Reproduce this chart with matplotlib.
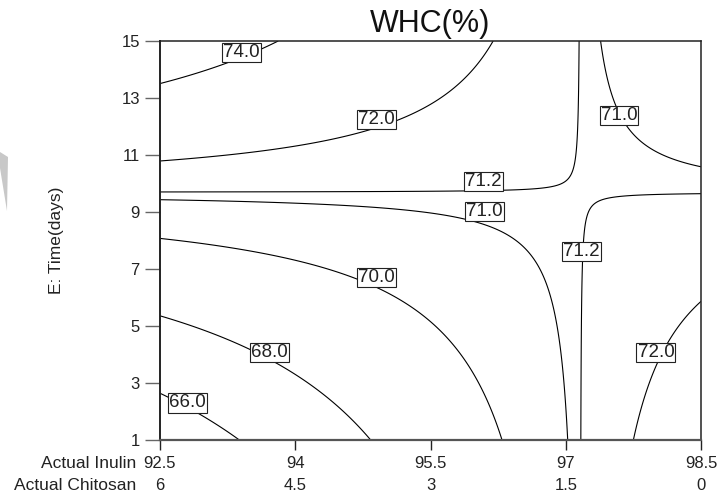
import numpy as np
import matplotlib
matplotlib.use("Agg")
import matplotlib.pyplot as plt
import matplotlib.transforms as mtransforms
from matplotlib.patches import Polygon

plt.rcParams['font.family'] = ['Liberation Sans', 'DejaVu Sans']

# ---- data (fitted response surface) ----
inulin_ticks = [92.5, 94, 95.5, 97, 98.5]
chitosan_ticks = ['6', '4.5', '3', '1.5', '0']
time_ticks = [1, 3, 5, 7, 9, 11, 13, 15]
levels = [66.0, 68.0, 70.0, 71.0, 71.2, 72.0, 74.0]

# model: WHC = z0 + k * (Inulin - x0) * (Time - t0)
saddle_inulin = 97.16
saddle_time = 9.69
saddle_value = 71.19
interaction = -0.158

# contour label positions (inulin, time) and their values
label_values = [74.0, 72.0, 71.0, 71.2, 71.0, 71.2, 70.0, 68.0, 66.0, 72.0]
label_inulin = [93.40, 94.90, 97.59, 96.09, 96.10, 97.17, 94.90, 93.71, 92.80, 98.00]
label_time = [14.59, 12.25, 12.38, 10.06, 9.01, 7.61, 6.70, 4.08, 2.30, 4.08]

W, H = 718, 493
fig = plt.figure(figsize=(W / 100, H / 100), dpi=100)
ax = fig.add_axes([160 / W, 53 / H, 541 / W, 399 / H])

x = np.linspace(92.5, 98.5, 500)
t = np.linspace(1, 15, 500)
X, T = np.meshgrid(x, t)
Z = saddle_value + interaction * (X - saddle_inulin) * (T - saddle_time)

ax.contour(X, T, Z, levels=levels, colors='black', linewidths=0.8)

for v, xi, ti in zip(label_values, label_inulin, label_time):
    ax.text(xi, ti, f"{v:.1f}", ha='center', va='center', fontsize=13.5,
            color='#222222', zorder=5,
            bbox=dict(boxstyle='square,pad=0.06', facecolor='white',
                      edgecolor='#222222', linewidth=0.8))

ax.set_xlim(92.5, 98.5)
ax.set_ylim(1, 15)
ax.set_xticks(inulin_ticks)
ax.set_xticklabels([f"{v:g}" for v in inulin_ticks], fontsize=12, color='#222222')
ax.set_yticks(time_ticks)
ax.set_yticklabels([str(v) for v in time_ticks], fontsize=12, color='#222222')
ax.tick_params(axis='x', length=7.5, width=1.0, color='#222222', pad=4)
ax.tick_params(axis='y', length=10.5, width=1.0, color='#666666', pad=4)
for s in ax.spines.values():
    s.set_linewidth(1.1)
    s.set_color('#222222')
ax.spines['bottom'].set_linewidth(1.6)
ax.spines['bottom'].set_color('#555555')
ax.spines['left'].set_linewidth(1.4)

# second row of x labels (chitosan)
blend = mtransforms.blended_transform_factory(ax.transData, fig.transFigure)
for xv, lab in zip(inulin_ticks, chitosan_ticks):
    fig.text(xv, 1 - 485 / H, lab, transform=blend, ha='center', va='center',
             fontsize=12, color='#222222')

fig.text(136 / W, 1 - 463 / H, 'Actual Inulin', ha='right', va='center',
         fontsize=12.5, color='#222222')
fig.text(136 / W, 1 - 485 / H, 'Actual Chitosan', ha='right', va='center',
         fontsize=12.5, color='#222222')

fig.text(56 / W, 1 - 240 / H, 'E: Time(days)', rotation=90, ha='center',
         va='center', fontsize=12.5, color='#222222')

fig.text(430 / W, 1 - 24 / H, 'WHC(%)', ha='center', va='center',
         fontsize=22, color='#111111')

# grey wedge at far left
wedge = Polygon([(0 / W, 1 - 152 / H), (8 / W, 1 - 157 / H), (7 / W, 1 - 211 / H),
                 (0 / W, 1 - 168 / H)], closed=True, transform=fig.transFigure,
                facecolor='#c8c8c8', edgecolor='none')
fig.patches.append(wedge)

fig.savefig('out.png', dpi=100)
